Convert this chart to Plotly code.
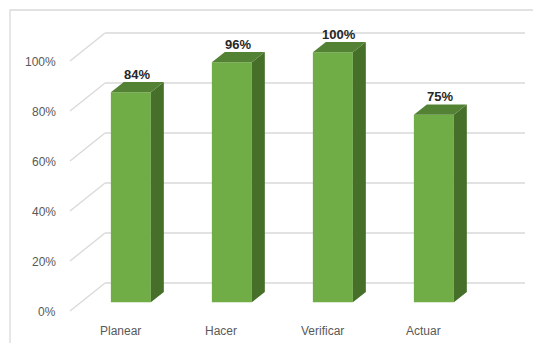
import plotly.graph_objects as go

# ---- data ----
categories = ["Planear", "Hacer", "Verificar", "Actuar"]
values = [84, 96, 100, 75]
tick_values = [0, 20, 40, 60, 80, 100]
tick_labels = ["0%", "20%", "40%", "60%", "80%", "100%"]

# ---- 3D projection settings (in axis units) ----
DX, DY = 0.347, 11.2          # offset of back wall relative to front plane
FZ0, FZ1 = 0.31, 0.68         # depth fraction of bar front / back faces
BAR_W = 0.396
FLOOR_L, FLOOR_R = -0.495, 3.663  # front-plane extent of floor/walls

FRONT = "#70AD47"
TOP = "#548235"
SIDE = "#466F2A"
GRID = "#D9D9D9"
TXT = "#595959"
FONT = "Liberation Sans"

# the page body has an 8px margin; the figure fills the rest of the window
W, H, PAGE_M = 541, 343, 8
FW, FH = W - PAGE_M, H - PAGE_M

fig = go.Figure()
shapes = []
annotations = []

# gridlines (back wall + left wall diagonals)
for v, lab in zip(tick_values, tick_labels):
    shapes.append(dict(type="line", xref="x", yref="y", layer="below",
                       x0=FLOOR_L + DX, y0=v + DY, x1=FLOOR_R + DX, y1=v + DY,
                       line=dict(color=GRID, width=1.3)))
    shapes.append(dict(type="line", xref="x", yref="y", layer="below",
                       x0=FLOOR_L, y0=v, x1=FLOOR_L + DX, y1=v + DY,
                       line=dict(color=GRID, width=1.3)))
    annotations.append(dict(x=FLOOR_L, y=v, xref="x", yref="y", text=lab,
                            showarrow=False, xanchor="right", yanchor="middle",
                            xshift=-12, yshift=-1,
                            font=dict(family=FONT, size=12, color=TXT)))

# front faces as bars
fx = [i + FZ0 * DX for i in range(len(categories))]
base = FZ0 * DY
fig.add_trace(go.Bar(x=fx, y=values, base=[base] * len(values), width=BAR_W,
                     marker=dict(color=FRONT, line=dict(width=0)),
                     hoverinfo="skip", showlegend=False))

sdx = (FZ1 - FZ0) * DX
sdy = (FZ1 - FZ0) * DY
for i, (c, v) in enumerate(zip(categories, values)):
    xl = fx[i] - BAR_W / 2
    xr = fx[i] + BAR_W / 2
    top = base + v
    # side face
    fig.add_trace(go.Scatter(
        x=[xr, xr + sdx, xr + sdx, xr, xr],
        y=[base, base + sdy, top + sdy, top, base],
        fill="toself", fillcolor=SIDE, mode="lines", line=dict(width=0, color=SIDE),
        hoverinfo="skip", showlegend=False))
    # top face
    fig.add_trace(go.Scatter(
        x=[xl, xr, xr + sdx, xl + sdx, xl],
        y=[top, top, top + sdy, top + sdy, top],
        fill="toself", fillcolor=TOP, mode="lines", line=dict(width=0, color=TOP),
        hoverinfo="skip", showlegend=False))
    # data label
    annotations.append(dict(x=fx[i] + sdx / 2, y=top + sdy, xref="x", yref="y",
                            text=f"<b>{v}%</b>", showarrow=False,
                            xanchor="center", yanchor="bottom", yshift=-2,
                            font=dict(family=FONT, size=13, color="#262626")))
    # category label
    annotations.append(dict(x=i, y=0, xref="x", yref="y", text=c,
                            showarrow=False, xanchor="center", yanchor="top",
                            yshift=-11,
                            font=dict(family=FONT, size=12, color=TXT)))

# chart border
shapes.append(dict(type="rect", xref="paper", yref="paper",
                   x0=2 / FW, x1=1.2, y0=-0.2, y1=1 - 2 / FH,
                   line=dict(color=GRID, width=1.3), layer="below"))

fig.update_layout(
    width=FW, height=FH,
    margin=dict(l=0, r=0, t=0, b=0),
    paper_bgcolor="white", plot_bgcolor="white",
    xaxis=dict(range=[(PAGE_M - 120) / 101, (FW + PAGE_M - 120) / 101],
               visible=False, fixedrange=True),
    yaxis=dict(range=[(311 - PAGE_M - FH) / 2.5, (311 - PAGE_M) / 2.5],
               visible=False, fixedrange=True),
    shapes=shapes, annotations=annotations,
    showlegend=False,
)

fig.write_html("out.html")
